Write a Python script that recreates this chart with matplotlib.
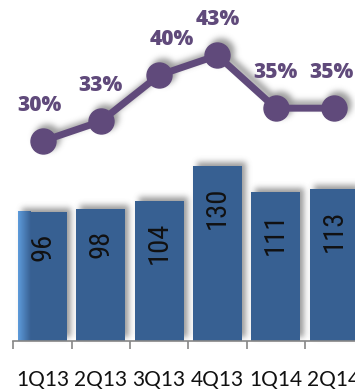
import numpy as np
import matplotlib
matplotlib.use("Agg")
import matplotlib.pyplot as plt

quarters = ["1Q13", "2Q13", "3Q13", "4Q13", "1Q14", "2Q14"]
volumes = [96, 98, 104, 130, 111, 113]
shares = [30, 33, 40, 43, 35, 35]

BAR_BLUE = "#376092"
PURPLE = "#604A7B"
AXIS_GRAY = "#868686"


def blur(a, sigma):
    r = int(3 * sigma)
    k = np.exp(-0.5 * (np.arange(-r, r + 1) / sigma) ** 2)
    k /= k.sum()
    a = np.apply_along_axis(lambda m: np.convolve(m, k, mode="same"), 0, a)
    a = np.apply_along_axis(lambda m: np.convolve(m, k, mode="same"), 1, a)
    return a


class SoftShadow:
    """agg filter: blurred grey copy of the artist, shifted up and right."""

    def __init__(self, sigma=3.0, alpha=0.6, dx=4, dy=4):
        self.sigma, self.alpha, self.dx, self.dy = sigma, alpha, dx, dy

    def __call__(self, im, dpi):
        pad = int(3 * self.sigma) + max(abs(self.dx), abs(self.dy)) + 2
        h, w = im.shape[:2]
        a = np.zeros((h + 2 * pad, w + 2 * pad))
        a[pad:pad + h, pad:pad + w] = im[..., 3]
        a = blur(a, self.sigma)
        a = np.roll(a, (-self.dy, self.dx), axis=(0, 1))
        out = np.zeros(a.shape + (4,))
        out[..., :3] = 0.35
        out[..., 3] = np.clip(a * self.alpha, 0, 1)
        return out, -pad, -pad


fig = plt.figure(figsize=(3.55, 3.92), dpi=100)
ax = fig.add_axes([0, 51 / 392, 1, 341 / 392])
ax2 = ax.twinx()

x = np.arange(len(quarters))
width = 0.84

# bars with a soft shadow behind them
shadow_bars = ax.bar(x, volumes, width, color="k", zorder=1)
for b in shadow_bars:
    b.set_agg_filter(SoftShadow())
bars = ax.bar(x, volumes, width, color=BAR_BLUE, zorder=2)

# lighter sheen on the left edge of the first bar
grad = np.linspace(0, 1, 40)
c0 = np.array(matplotlib.colors.to_rgb("#5E9BDB"))
c1 = np.array(matplotlib.colors.to_rgb(BAR_BLUE))
sheen = (c0[None, :] * (1 - grad[:, None]) + c1[None, :] * grad[:, None])[None, :, :]
ax.imshow(sheen, extent=[x[0] - width / 2, x[0] - width / 2 + 0.22, 0, volumes[0]],
          aspect="auto", zorder=2.5, interpolation="bilinear")

for xi, v in zip(x, volumes):
    ax.annotate(str(v), (xi, v), xytext=(0, -15), textcoords="offset points",
                rotation=90, ha="center", va="top", fontsize=20.5, color="#111111",
                family=["Roboto Condensed", "DejaVu Sans"], zorder=4)

ax.set_xlim(-0.729, 5.36)
ax.set_ylim(0, 253.5)

# share line on its own scale
ax2.plot(x, shares, color="k", lw=5, marker="o", ms=18,
         zorder=1)[0].set_agg_filter(SoftShadow())
ax2.plot(x, shares, color=PURPLE, lw=5, marker="o", ms=18, zorder=2)
nudge = [-2, 0, 9, 0, 0, -2]
for xi, s, dx in zip(x, shares, nudge):
    ax2.annotate(f"{s}%", (xi, s), xytext=(dx, 25.5), textcoords="offset points",
                 ha="center", va="center", fontsize=15, fontweight=800,
                 color=PURPLE, family=["Open Sans", "DejaVu Sans"])
ax2.set_ylim(-0.3, 51.4)
ax2.set_xlim(-0.729, 5.36)

for a in (ax, ax2):
    for side in ("top", "right", "left"):
        a.spines[side].set_visible(False)
    a.set_yticks([])
ax2.spines["bottom"].set_visible(False)
ax2.set_zorder(ax.get_zorder() + 1)
ax.patch.set_visible(False)

ax.spines["bottom"].set_color(AXIS_GRAY)
ax.spines["bottom"].set_linewidth(1.2)
ax.spines["bottom"].set_bounds(-0.5, 5.36)

ax.set_xticks(x)
ax.set_xticklabels(quarters, family=["Lato", "DejaVu Sans"], fontsize=15, color="#111111")
ax.tick_params(axis="x", which="major", length=0, pad=21)
ax.set_xticks(np.arange(len(quarters)) - 0.5, minor=True)
ax.tick_params(axis="x", which="minor", length=6, width=1.2, color=AXIS_GRAY)

fig.savefig("out.png", dpi=100)
